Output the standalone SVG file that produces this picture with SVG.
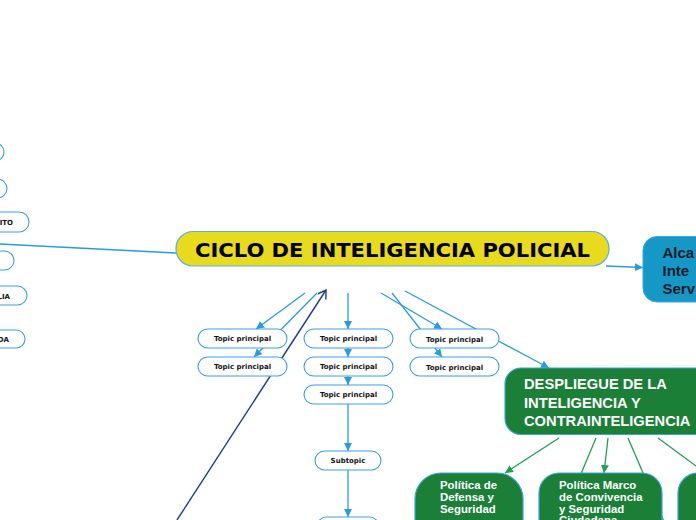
<svg xmlns="http://www.w3.org/2000/svg" width="696" height="520" viewBox="0 0 696 520">
<defs>
<style>
.c{stroke:#2a9be2;stroke-width:1.3;fill:none}
.g{stroke:#1ea24e;stroke-width:1.3;fill:none}
.n{fill:#fff;stroke:#3c9fe5;stroke-width:1.1}
.t{font-family:"DejaVu Sans",Verdana,sans-serif;font-weight:bold;font-size:7px;fill:#111;text-anchor:middle}
.gn{fill:#1b7f37;stroke:#3aa6dc;stroke-width:1.2}
.gt{font-family:"Liberation Sans",Arial,sans-serif;font-weight:bold;font-size:11.4px;fill:#fff}
</style>
<marker id="a" markerUnits="userSpaceOnUse" markerWidth="9" markerHeight="9" refX="8" refY="4" orient="auto"><path d="M0,0 L8,4 L0,8 z" fill="#2a9be2"/></marker>
<marker id="ag" markerUnits="userSpaceOnUse" markerWidth="9" markerHeight="9" refX="8" refY="4" orient="auto"><path d="M0,0 L8,4 L0,8 z" fill="#1ea24e"/></marker>
<marker id="an" markerUnits="userSpaceOnUse" markerWidth="12" markerHeight="12" refX="9" refY="5" orient="auto"><path d="M1,0 L9,5 L1,10" fill="none" stroke="#1c3f8f" stroke-width="1.4"/></marker>
</defs>
<g id="connectors">
<line class="c" x1="0" y1="244" x2="176" y2="253"/>
<line class="c" x1="606" y1="266" x2="643" y2="267.5" marker-end="url(#a)"/>
<line class="c" x1="305" y1="293" x2="256" y2="329" marker-end="url(#a)"/>
<line class="c" x1="317" y1="293" x2="254" y2="357" marker-end="url(#a)"/>
<line class="c" x1="348" y1="293" x2="348" y2="329" marker-end="url(#a)"/>
<line class="c" x1="348" y1="348" x2="348" y2="357" marker-end="url(#a)"/>
<line class="c" x1="348" y1="376" x2="348" y2="385" marker-end="url(#a)"/>
<line class="c" x1="348" y1="404" x2="348" y2="451" marker-end="url(#a)"/>
<line class="c" x1="348" y1="470" x2="348" y2="517" marker-end="url(#a)"/>
<line class="c" x1="381" y1="293" x2="442" y2="329" marker-end="url(#a)"/>
<line class="c" x1="392" y1="293" x2="442" y2="357" marker-end="url(#a)"/>
<line class="c" x1="405" y1="291" x2="549" y2="368" marker-end="url(#a)"/>
<line x1="177" y1="520" x2="326" y2="290" stroke="#1c3f8f" stroke-width="1.4" marker-end="url(#an)"/>
<line class="g" x1="559" y1="438" x2="505" y2="473" marker-end="url(#ag)"/>
<line class="g" x1="596" y1="438" x2="570" y2="500"/>
<line class="g" x1="608" y1="438" x2="604" y2="473" marker-end="url(#ag)"/>
<line class="g" x1="628" y1="438" x2="668" y2="531"/>
<line class="g" x1="658" y1="438" x2="700" y2="469"/>
</g>
<g id="left1"><rect class="n" x="-80" y="143" width="84" height="18" rx="9"/></g>
<g id="left2"><rect class="n" x="-80" y="179" width="87" height="19" rx="9.5"/></g>
<g id="left3"><rect class="n" x="-80" y="212" width="109" height="20" rx="10"/><text class="t" x="13" y="224.5" style="text-anchor:end">ITO</text></g>
<g id="left4"><rect class="n" x="-80" y="251" width="94" height="19" rx="9.5"/></g>
<g id="left5"><rect class="n" x="-80" y="286" width="107" height="19" rx="9.5"/><text class="t" x="10" y="298.5" style="text-anchor:end">LIA</text></g>
<g id="left6"><rect class="n" x="-80" y="330" width="105" height="18" rx="9"/><text class="t" x="9" y="341.5" style="text-anchor:end">DA</text></g>
<g id="title"><rect x="176" y="231.5" width="433" height="34.5" rx="17" fill="#e8da1c" stroke="#5aaee8" stroke-width="1.2"/><text x="392.5" y="257" font-family="DejaVu Sans,Verdana,sans-serif" font-weight="bold" font-size="19" text-anchor="middle" textLength="395" lengthAdjust="spacingAndGlyphs" fill="#000">CICLO DE INTELIGENCIA POLICIAL</text></g>
<g id="alcance"><rect x="643" y="236.5" width="80" height="65.5" rx="14" fill="#1598c6" stroke="#3aa6dc" stroke-width="1"/><text font-family="Liberation Sans,Arial,sans-serif" font-weight="bold" font-size="15" fill="#0f1a2a"><tspan x="662.5" y="258.3">Alca</tspan><tspan x="662.5" y="276">Inte</tspan><tspan x="662.5" y="293.5">Serv</tspan></text></g>
<g id="tp1"><rect class="n" x="198" y="329" width="89" height="19" rx="9.5"/><text class="t" x="242.5" y="341">Topic principal</text></g>
<g id="tp2"><rect class="n" x="198" y="357" width="89" height="19" rx="9.5"/><text class="t" x="242.5" y="369">Topic principal</text></g>
<g id="tp3"><rect class="n" x="304" y="329" width="89" height="19" rx="9.5"/><text class="t" x="348.5" y="341">Topic principal</text></g>
<g id="tp4"><rect class="n" x="304" y="357" width="89" height="19" rx="9.5"/><text class="t" x="348.5" y="369">Topic principal</text></g>
<g id="tp5"><rect class="n" x="304" y="385" width="89" height="19" rx="9.5"/><text class="t" x="348.5" y="397">Topic principal</text></g>
<g id="tp6"><rect class="n" x="410" y="329" width="89" height="19" rx="9.5"/><text class="t" x="454.5" y="341.5">Topic principal</text></g>
<g id="tp7"><rect class="n" x="410" y="357" width="89" height="19" rx="9.5"/><text class="t" x="454.5" y="369.5">Topic principal</text></g>
<g id="subtopic"><rect class="n" x="315" y="451" width="66" height="19" rx="9.5"/><text class="t" x="348" y="463">Subtopic</text></g>
<g id="sub2"><rect class="n" x="317" y="517" width="62" height="19" rx="9.5"/></g>
<g id="despliegue"><rect class="gn" x="505" y="368" width="215" height="66.5" rx="16"/><text font-family="Liberation Sans,Arial,sans-serif" font-weight="bold" font-size="14.7" fill="#fff"><tspan x="524" y="389">DESPLIEGUE DE LA</tspan><tspan x="524" y="407.5">INTELIGENCIA Y</tspan><tspan x="524" y="425.5">CONTRAINTELIGENCIA</tspan></text></g>
<g id="defensa"><rect class="gn" x="415" y="473" width="108" height="80" rx="26"/><text class="gt"><tspan x="440" y="489.3">Política de</tspan><tspan x="440" y="501">Defensa y</tspan><tspan x="440" y="512.7">Seguridad</tspan></text></g>
<g id="marco"><rect class="gn" x="539" y="473" width="123" height="80" rx="20"/><text class="gt"><tspan x="559" y="489.3">Política Marco</tspan><tspan x="559" y="501">de Convivencia</tspan><tspan x="559" y="512.7">y Seguridad</tspan><tspan x="559" y="524.4">Ciudadana</tspan></text></g>
<g id="tercero"><rect class="gn" x="678" y="473" width="80" height="80" rx="20"/></g>
</svg>
